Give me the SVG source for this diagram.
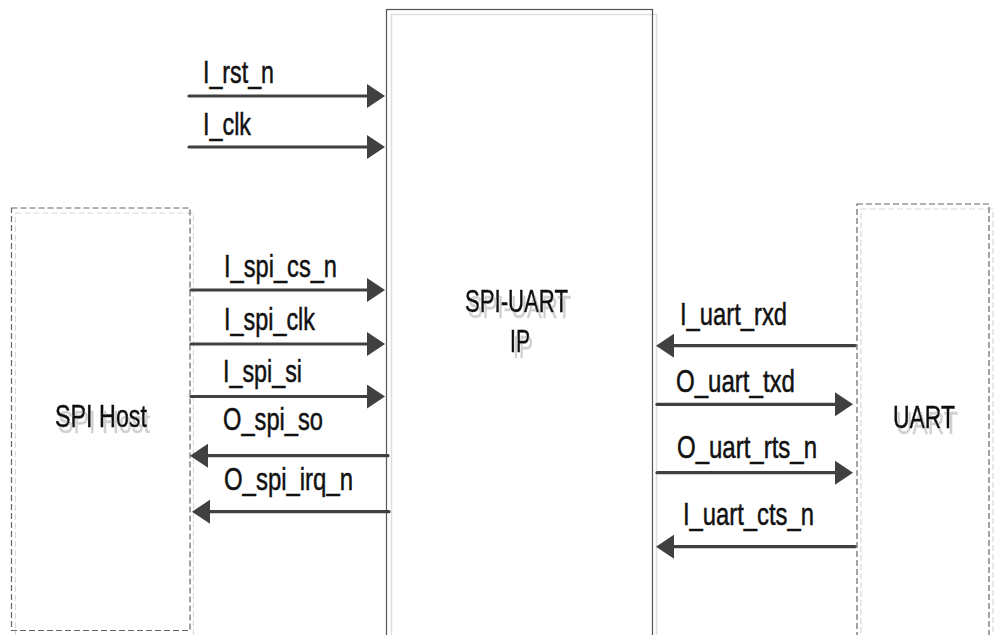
<svg xmlns="http://www.w3.org/2000/svg" width="994" height="635" viewBox="0 0 994 635">
<defs>
<style>
.lbl{font-family:"Liberation Sans",Arial,sans-serif;font-size:32px;fill:#111;stroke:#111;stroke-width:0.5;}
.sh{filter:url(#ts);}
.wire{stroke:#404040;stroke-width:3.2;fill:none;stroke-linecap:round;marker-end:url(#arr);}
.solidbox{fill:none;stroke:#555;stroke-width:1.2;}
.solidshadow{fill:none;stroke:#dedede;stroke-width:1.5;}
.dashbox{fill:none;stroke:#666;stroke-width:1.2;stroke-dasharray:6 3;}
.dashshadow{fill:none;stroke:#dadada;stroke-width:1.2;stroke-dasharray:6 3;}
</style>
<filter id="ts" x="-10%" y="-20%" width="130%" height="160%">
<feOffset in="SourceAlpha" dx="3" dy="6" result="o"/>
<feFlood flood-color="#d0d0d0"/>
<feComposite in2="o" operator="in" result="s"/>
<feMerge><feMergeNode in="s"/><feMergeNode in="SourceGraphic"/></feMerge>
</filter>
<marker id="arr" viewBox="0 0 18 24" markerWidth="18" markerHeight="24" refX="1" refY="12" orient="auto" markerUnits="userSpaceOnUse">
<path d="M0,0 L18,12 L0,24 z" fill="#404040"/>
</marker>
</defs>
<rect width="994" height="635" fill="#fff"/>

<g id="ip">
<rect class="solidshadow" x="391.5" y="14.5" width="265" height="640"/>
<rect class="solidbox" x="386.5" y="9.5" width="266" height="640"/>
<text class="lbl sh" x="465" y="311.5" textLength="103" lengthAdjust="spacingAndGlyphs">SPI-UART</text>
<text class="lbl sh" x="510" y="352" textLength="20" lengthAdjust="spacingAndGlyphs">IP</text>
</g>

<g id="spihost">
<rect class="dashshadow" x="15.5" y="213" width="178" height="430"/>
<rect class="dashbox" x="11.5" y="208" width="178.5" height="422.5"/>
<text class="lbl sh" x="55" y="426.5" textLength="92" lengthAdjust="spacingAndGlyphs">SPI Host</text>
</g>

<g id="uart">
<rect class="dashshadow" x="861" y="209" width="132" height="440"/>
<rect class="dashbox" x="857" y="204" width="132" height="445"/>
<text class="lbl sh" x="893" y="428" textLength="62" lengthAdjust="spacingAndGlyphs">UART</text>
</g>

<g id="connectors">
<line class="wire" x1="189" y1="96" x2="368" y2="96"/>
<line class="wire" x1="189" y1="147" x2="368" y2="147"/>
<line class="wire" x1="191" y1="290" x2="368" y2="290"/>
<line class="wire" x1="191" y1="344" x2="368" y2="344"/>
<line class="wire" x1="191" y1="396.5" x2="368" y2="396.5"/>
<line class="wire" x1="388" y1="455.7" x2="207" y2="455.7"/>
<line class="wire" x1="389" y1="511.7" x2="209" y2="511.7"/>
<line class="wire" x1="855" y1="345.7" x2="673" y2="345.7"/>
<line class="wire" x1="657" y1="404.3" x2="836" y2="404.3"/>
<line class="wire" x1="657" y1="472.7" x2="836" y2="472.7"/>
<line class="wire" x1="855" y1="546.7" x2="673" y2="546.7"/>
</g>

<g id="labels">
<text class="lbl" x="203" y="83" textLength="71" lengthAdjust="spacingAndGlyphs">I_rst_n</text>
<text class="lbl" x="203" y="135" textLength="48" lengthAdjust="spacingAndGlyphs">I_clk</text>
<text class="lbl" x="224" y="277" textLength="113" lengthAdjust="spacingAndGlyphs">I_spi_cs_n</text>
<text class="lbl" x="224" y="330" textLength="91" lengthAdjust="spacingAndGlyphs">I_spi_clk</text>
<text class="lbl" x="223" y="381.5" textLength="79" lengthAdjust="spacingAndGlyphs">I_spi_si</text>
<text class="lbl" x="223" y="430" textLength="100" lengthAdjust="spacingAndGlyphs">O_spi_so</text>
<text class="lbl" x="224" y="490" textLength="129" lengthAdjust="spacingAndGlyphs">O_spi_irq_n</text>
<text class="lbl" x="680" y="325" textLength="107" lengthAdjust="spacingAndGlyphs">I_uart_rxd</text>
<text class="lbl" x="676" y="391.5" textLength="119" lengthAdjust="spacingAndGlyphs">O_uart_txd</text>
<text class="lbl" x="677" y="458" textLength="140" lengthAdjust="spacingAndGlyphs">O_uart_rts_n</text>
<text class="lbl" x="683" y="525" textLength="131" lengthAdjust="spacingAndGlyphs">I_uart_cts_n</text>
</g>
</svg>
